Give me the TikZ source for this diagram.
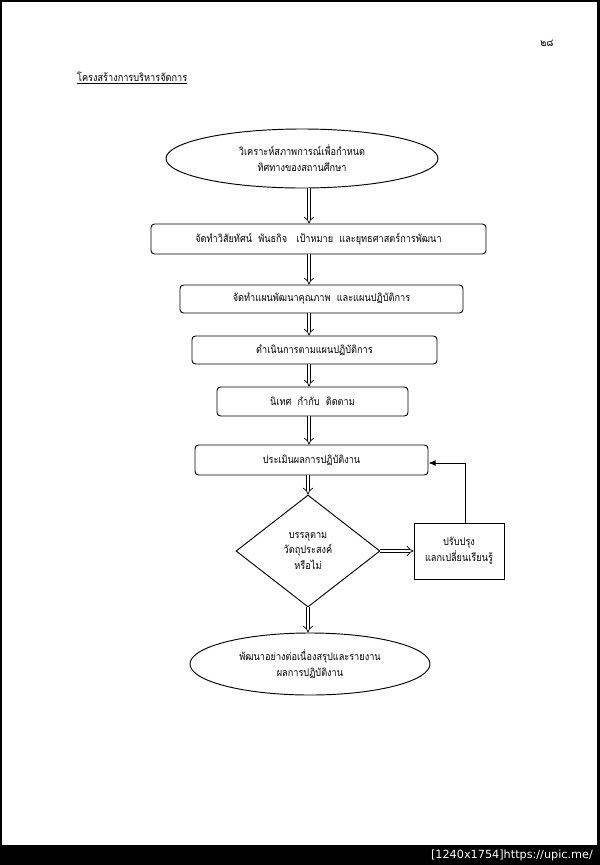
\documentclass[tikz,border=0pt]{standalone}
\usepackage{fontspec}
\newfontfamily\thaifont[Script=Thai,FakeStretch=0.87]{Loma}
\newfontfamily\wmfont{DejaVu Sans}
\usetikzlibrary{arrows.meta,shapes.geometric}

\begin{document}
\begin{tikzpicture}[x=0.03cm,y=-0.03cm,font=\thaifont\fontsize{9}{13.5}\selectfont,
  box/.style={draw,rounded corners=3pt,line width=0.8pt,inner sep=0pt},
  oval/.style={draw,ellipse,line width=0.8pt,inner sep=0pt,align=center},
  dbl/.style={double,double distance=2.4pt,line width=0.6pt,-{Implies}},
  back/.style={line width=0.8pt,-{Latex[length=6pt,width=5pt]}}]
\useasboundingbox (0,0) rectangle (600,865);
% page frame and watermark bar
\fill (0,0) rectangle (600,2);
\fill (0,0) rectangle (2,865);
\fill (597,0) rectangle (600,865);
\fill (0,845) rectangle (600,865);
\node[white,anchor=east,font=\wmfont\fontsize{9.6}{10}\selectfont] (wm) at (597,855) {[1240x1754]https://upic.me/};
% heading
\node (pageno) at (547,43) {๒๘};
\node[anchor=west] (title) at (73,78) {\underline{โครงสร้างการบริหารจัดการ}};
\coordinate (stem) at (309,0);
% main chain
\node[oval,minimum width=8.16cm,minimum height=1.77cm] (analyse) at (302,158.5) {วิเคราะห์สภาพการณ์เพื่อกำหนด\\ทิศทางของสถานศึกษา};
\node[box,minimum width=10.05cm,minimum height=0.9cm] (vision) at (318.5,239) {จัดทำวิสัยทัศน์~~พันธกิจ~~~เป้าหมาย~~และยุทธศาสตร์การพัฒนา};
\node[box,minimum width=8.49cm,minimum height=0.84cm] (plan) at (321.5,299) {จัดทำแผนพัฒนาคุณภาพ~~และแผนปฏิบัติการ};
\node[box,minimum width=7.35cm,minimum height=0.84cm] (operate) at (314.5,350) {ดำเนินการตามแผนปฏิบัติการ};
\node[box,minimum width=5.73cm,minimum height=0.87cm] (supervise) at (312.5,401.5) {นิเทศ~~กำกับ~~ติดตาม};
\node[box,minimum width=6.99cm,minimum height=0.9cm] (evaluate) at (311.5,460) {ประเมินผลการปฏิบัติงาน};
\node[draw,diamond,aspect=1.3,line width=0.8pt,inner sep=0pt,align=center,minimum width=4.32cm,minimum height=3.36cm] (decide) at (308,551) {บรรลุตาม\\วัตถุประสงค์\\หรือไม่};
\node[draw,line width=0.8pt,align=center,minimum width=2.7cm,minimum height=1.68cm] (improve) at (459,551) {ปรับปรุง\\แลกเปลี่ยนเรียนรู้};
\node[oval,minimum width=7.2cm,minimum height=1.86cm] (report) at (310,664) {พัฒนาอย่างต่อเนื่องสรุปและรายงาน\\ผลการปฏิบัติงาน};
% connectors
\draw[dbl] (analyse.south -| stem) -- (vision.north -| stem);
\draw[dbl] (vision.south -| stem) -- (plan.north -| stem);
\draw[dbl] (plan.south -| stem) -- (operate.north -| stem);
\draw[dbl] (operate.south -| stem) -- (supervise.north -| stem);
\draw[dbl] (supervise.south -| stem) -- (evaluate.north -| stem);
\draw[dbl] (evaluate.south -| decide.north) -- (decide.north);
\draw[dbl] (decide.south) -- (decide.south |- report.north);
\draw[dbl] (decide.east) -- (improve.west);
\draw[back] ([xshift=0.18cm]improve.north) |- ([yshift=-0.09cm]evaluate.east);
\end{tikzpicture}
\end{document}
